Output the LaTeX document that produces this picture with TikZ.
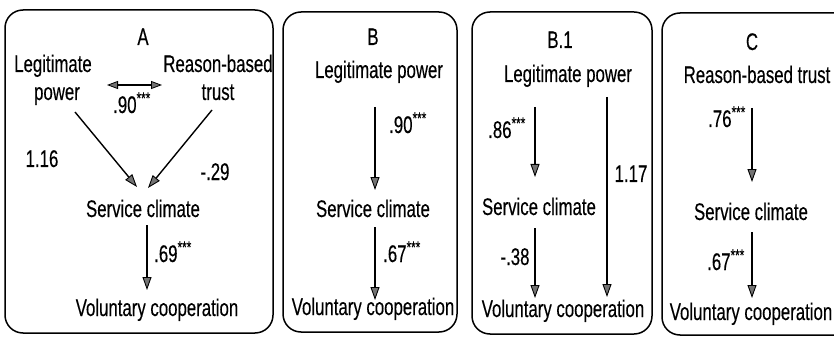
\documentclass[tikz,border=0pt]{standalone}
\usepackage{fontspec}
\setmainfont{Liberation Sans}[FakeStretch=0.70,FakeBold=0.3]
\usetikzlibrary{arrows.meta}
\begin{document}
\begin{tikzpicture}[x=1pt,y=-1pt,
  t/.style={inner sep=0pt, anchor=base, font=\fontsize{24}{28}\selectfont},
  nd/.style={t, text height=17pt, text depth=5pt},
  panel/.style={draw, line width=1.5pt, rounded corners=18pt},
  tip/.tip={Triangle[length=13pt,width=9pt,fill=black!55,line width=0.9pt]},
  arr/.style={line width=1.4pt, -tip},
  darr/.style={line width=1.1pt, {Triangle[length=11pt,width=8pt,fill=black!55,line width=0.8pt]}-{Triangle[length=11pt,width=8pt,fill=black!55,line width=0.8pt]}}]
\useasboundingbox (0,0) rectangle (834,339);
\clip (0,0) rectangle (834,339);
% panels
\draw[panel] (5,10) rectangle (273,333);
\draw[panel] (283,12) rectangle (457,332);
\draw[panel] (472,12) rectangle (652,334);
\draw[panel] (662,13) rectangle (860,335);
% Panel A
\node[t] (tA) at (143,45) {A};
\node[nd] (lpA1) at (53,72) {Legitimate};
\node[nd] (lpA2) at (57,100) {power};
\node[nd] (rtA1) at (218,72) {Reason-based};
\node[nd] (rtA2) at (218,100) {trust};
\node[t] (lA1) at (132,113) {.90\textsuperscript{***}};
\node[t] (lA2) at (42,167) {1.16};
\node[t] (lA3) at (215,180) {-.29};
\node[nd] (scA) at (143,217) {Service climate};
\node[t] (lA4) at (173,262) {.69\textsuperscript{***}};
\node[nd] (vcA) at (157,316) {Voluntary cooperation};
\draw[darr] ([shift={(54pt,-13pt)}]lpA1.base) -- ([shift={(-56pt,-13pt)}]rtA1.base);
\draw[arr] ([shift={(18pt,-12pt)}]lpA2.base) -- ([shift={(-6pt,30pt)}]scA.base);
\draw[arr] ([shift={(-6pt,-10pt)}]rtA2.base) -- ([shift={(5pt,29pt)}]scA.base);
\draw[arr] ([shift={(4pt,-8pt)}]scA.base) -- ([shift={(-10pt,26pt)}]vcA.base);
% Panel B
\node[t] (tB) at (373,45) {B};
\node[nd] (lpB) at (379,78) {Legitimate power};
\node[t] (lB1) at (408,133) {.90\textsuperscript{***}};
\node[nd] (scB) at (373,217) {Service climate};
\node[t] (lB2) at (402,262) {.67\textsuperscript{***}};
\node[nd] (vcB) at (373,315) {Voluntary cooperation};
\draw[arr] ([shift={(-4pt,-29pt)}]lpB.base) -- ([shift={(2pt,27pt)}]scB.base);
\draw[arr] ([shift={(2pt,-10pt)}]scB.base) -- ([shift={(2pt,15pt)}]vcB.base);
% Panel B.1
\node[t] (tB1) at (560,48) {B.1};
\node[nd] (lpB1) at (568,82) {Legitimate power};
\node[t] (lB11) at (507,138) {.86\textsuperscript{***}};
\node[t] (lB12) at (631,182) {1.17};
\node[nd] (scB1) at (539,215) {Service climate};
\node[t] (lB13) at (515,265) {-.38};
\node[nd] (vcB1) at (563,317) {Voluntary cooperation};
\draw[arr] ([shift={(-33pt,-25pt)}]lpB1.base) -- ([shift={(-4pt,38pt)}]scB1.base);
\draw[arr] ([shift={(39pt,-15pt)}]lpB1.base) -- ([shift={(44pt,20pt)}]vcB1.base);
\draw[arr] ([shift={(-4pt,-13pt)}]scB1.base) -- ([shift={(-28pt,19pt)}]vcB1.base);
% Panel C
\node[t] (tC) at (752,50) {C};
\node[nd] (rtC) at (757,83) {Reason-based trust};
\node[t] (lC1) at (727,127) {.76\textsuperscript{***}};
\node[nd] (scC) at (751,220) {Service climate};
\node[t] (lC2) at (726,270) {.67\textsuperscript{***}};
\node[nd] (vcC) at (751,320) {Voluntary cooperation};
\draw[arr] ([shift={(-5pt,-25pt)}]rtC.base) -- ([shift={(1pt,38pt)}]scC.base);
\draw[arr] ([shift={(1pt,-12pt)}]scC.base) -- ([shift={(1pt,22pt)}]vcC.base);
\end{tikzpicture}
\end{document}
